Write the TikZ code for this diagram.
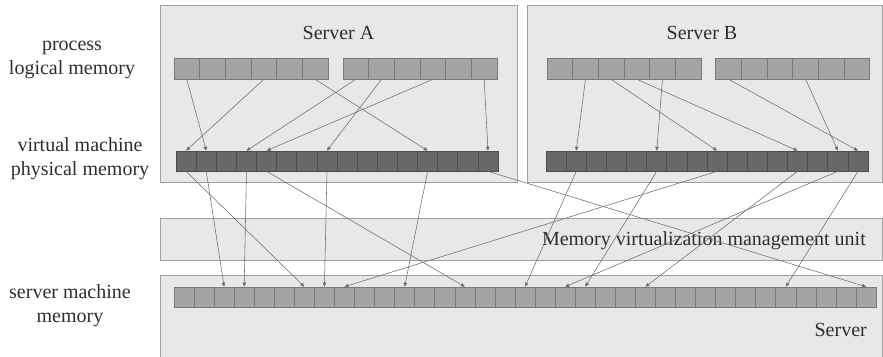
\documentclass[tikz,border=0pt]{standalone}
\usepackage{fontspec}
\setmainfont{Liberation Serif}
\usetikzlibrary{arrows.meta}
\definecolor{cBox}{HTML}{E8E8E8}
\definecolor{cBoxLine}{HTML}{A0A0A0}
\definecolor{cCell}{HTML}{A4A4A4}
\definecolor{cCellLine}{HTML}{7A7A7A}
\definecolor{cVm}{HTML}{686868}
\definecolor{cVmLine}{HTML}{4E4E4E}
\definecolor{cLink}{HTML}{6C6C6C}
\definecolor{cText}{HTML}{2E2E2E}
\tikzset{
  panel/.style={draw=cBoxLine, line width=0.8pt, fill=cBox, anchor=north west, inner sep=0pt},
  lbl/.style={font=\fontsize{20}{24}\selectfont, text=cText, align=center, inner sep=0pt},
  lcell/.style={draw=cCellLine, line width=0.6pt, fill=cCell, inner sep=0pt,
    minimum width=25.67pt, minimum height=21pt},
  vcell/.style={draw=cVmLine, line width=0.6pt, fill=cVm, inner sep=0pt,
    minimum width=20.125pt, minimum height=20pt},
  mcell/.style={lcell, minimum width=20.06pt, minimum height=20pt},
  link/.style={-{Triangle[length=4pt,width=3.5pt]}, draw=cLink, line width=0.55pt},
}

\begin{document}
\begin{tikzpicture}[x=1pt,y=-1pt]
    \useasboundingbox (0,0) rectangle (883,356);
    % panels
    \node[panel, minimum width=357pt, minimum height=177pt] (srvA) at (160,5) {};
    \node[panel, minimum width=355pt, minimum height=177pt] (srvB) at (527,5) {};
    \node[panel, minimum width=722pt, minimum height=42pt] (mmu) at (160,218) {};
    \node[panel, minimum width=722pt, minimum height=90pt] (srv) at (160,275) {};
    % titles
    \node[lbl] (tA) at (338.5,33) {Server A};
    \node[lbl] (tB) at (702,33) {Server B};
    \node[lbl, anchor=east] (tMmu) at (866,241) {Memory virtualization management unit};
    \node[lbl, anchor=east] (tSrv) at (867,330) {Server};
    % row captions on the left
    \node[lbl] (capLog) at (72,60) {process\\logical memory};
    \node[lbl] (capPhys) at (80,158.5) {virtual machine\\physical memory};
    \node[lbl] (capMach) at (70,305.5) {server machine\\memory};
    % process logical memory
    \foreach \i in {0,...,5} {
      \node[lcell] (la1-\i) at ({186.8+25.67*\i},68.5) {};
      \node[lcell] (la2-\i) at ({355.8+25.67*\i},68.5) {};
      \node[lcell] (lb1-\i) at ({559.8+25.67*\i},68.5) {};
      \node[lcell] (lb2-\i) at ({728.6+25.67*\i},68.5) {};
    }
    % virtual machine physical memory
    \foreach \i in {0,...,15} {
      \node[vcell] (va-\i) at ({186.1+20.125*\i},161) {};
      \node[vcell] (vb-\i) at ({556.1+20.125*\i},161) {};
    }
    % server machine memory
    \foreach \i in {0,...,34}
      \node[mcell] (sm-\i) at ({184+20.06*\i},297) {};
    % logical -> physical
    \foreach \s/\t in {la1-0/va-1, la1-3/va-0, la1-5/va-12, la2-0/va-3, la2-1/va-7,
        la2-3/va-4, la2-5/va-15, lb1-1/vb-1, lb1-2/vb-8, lb1-3/vb-12, lb1-4/vb-5,
        lb2-0/vb-15, lb2-3/vb-14}
      \draw[link] (\s.south) -- (\t.north);
    % physical -> machine
    \foreach \s/\t in {va-0/sm-6, va-1/sm-2, va-3/sm-3, va-4/sm-14, va-7/sm-7,
        va-12/sm-11, va-15/sm-34, vb-1/sm-17, vb-5/sm-20, vb-8/sm-8, vb-12/sm-23,
        vb-14/sm-19, vb-15/sm-30}
      \draw[link] (\s.south) -- (\t.north);
\end{tikzpicture}
\end{document}
